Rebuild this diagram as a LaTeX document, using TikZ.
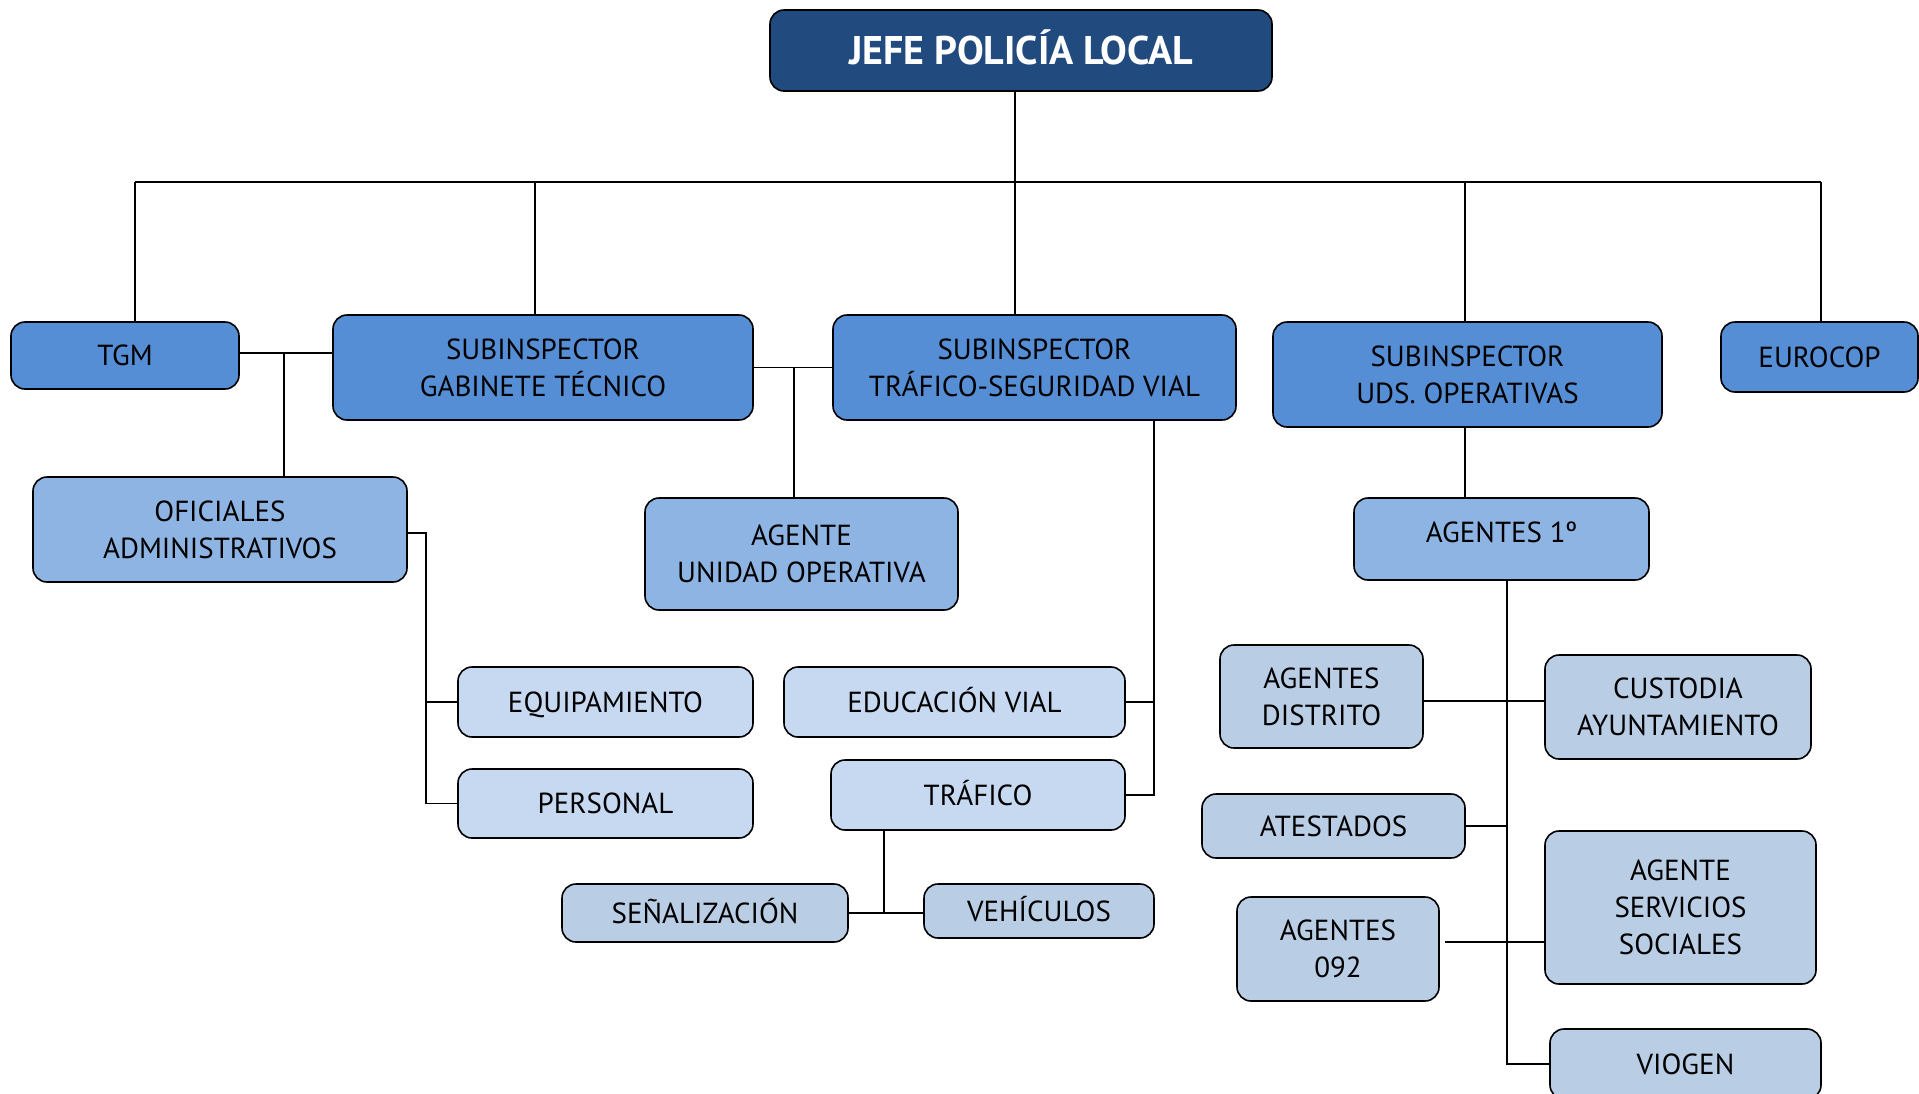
\documentclass[tikz,border=0pt]{standalone}
\usepackage{fontspec}
\setmainfont{PT Sans}
\usetikzlibrary{positioning}
\definecolor{jefeblue}{RGB}{33,74,126}
\definecolor{subblue}{RGB}{85,142,213}
\definecolor{midblue}{RGB}{142,180,227}
\definecolor{paleblue}{RGB}{198,217,241}
\definecolor{greyblue}{RGB}{185,205,229}
\tikzset{
  box/.style={draw=black, line width=1.6pt, rounded corners=14pt, align=center,
    inner sep=0pt, font=\fontsize{29}{37}\selectfont},
  dim/.style 2 args={minimum width=#1pt, minimum height=#2pt},
  one/.style={text height=20.5pt, text depth=0pt},
  jefe/.style={box, fill=jefeblue, text=white, font=\fontsize{40}{46}\selectfont\bfseries},
  sub/.style={box, fill=subblue},
  mid/.style={box, fill=midblue},
  pale/.style={box, fill=paleblue},
  grey/.style={box, fill=greyblue},
  link/.style={line width=1.6pt, draw=black},
}

\begin{document}
\begin{tikzpicture}[x=1pt, y=-1pt]
    \useasboundingbox (0,0) rectangle (1919,1093);
    % top levels
    \node[jefe, one, text height=28pt, dim={502}{81}] (jefe) at (1021,50.5) {JEFE POLICÍA LOCAL};
    \node[sub, one, dim={228}{67}] (tgm) at (125,355.5) {TGM};
    \node[sub, dim={420}{105}] (gab) at (543,367.5) {SUBINSPECTOR\\GABINETE TÉCNICO};
    \node[sub, dim={403}{105}] (traf) at (1034.5,367.5) {SUBINSPECTOR\\TRÁFICO-SEGURIDAD VIAL};
    \node[sub, dim={389}{105}] (uds) at (1467.5,374.5) {SUBINSPECTOR\\UDS. OPERATIVAS};
    \node[sub, one, dim={197}{70}] (euro) at (1819.5,357) {EUROCOP};
    \node[mid, dim={374}{105}] (ofic) at (220,529.5) {OFICIALES\\ADMINISTRATIVOS};
    \node[mid, dim={313}{112}] (aguo) at (801.5,554) {AGENTE\\UNIDAD OPERATIVA};
    \node[mid, one, dim={295}{82}] (ag1) at (1501.5,539) {\raisebox{7pt}{AGENTES 1º}};
    % gabinete / trafico
    \node[pale, one, dim={295}{70}] (equip) at (605.5,702) {EQUIPAMIENTO};
    \node[pale, one, dim={295}{69}] (personal) at (605.5,803.5) {PERSONAL};
    \node[pale, one, dim={341}{70}] (eduvial) at (954.5,702) {EDUCACIÓN VIAL};
    \node[pale, one, dim={294}{70}] (trafico) at (978,795) {TRÁFICO};
    \node[grey, one, dim={286}{58}] (senal) at (705,913) {SEÑALIZACIÓN};
    \node[grey, one, dim={230}{54}] (vehic) at (1039,911) {VEHÍCULOS};
    % operativas
    \node[grey, dim={203}{103}] (agdist) at (1321.5,696.5) {AGENTES\\DISTRITO};
    \node[grey, dim={266}{104}] (custodia) at (1678,707) {CUSTODIA\\AYUNTAMIENTO};
    \node[grey, one, dim={263}{64}] (atest) at (1333.5,826) {ATESTADOS};
    \node[grey, dim={202}{104}] (ag092) at (1338,949) {AGENTES\\092};
    \node[grey, dim={271}{153}] (agss) at (1680.5,907.5) {AGENTE\\SERVICIOS\\SOCIALES};
    \node[grey, one, dim={271}{70}] (viogen) at (1685.5,1064) {VIOGEN};

    \coordinate (busL) at (135,182);
    \coordinate (busR) at (1821,182);
    \coordinate (gabT) at (535,182);
    \coordinate (jefeB) at (1015,91);
    \coordinate (udsT) at (1465,182);
    \coordinate (tgJ) at (284,353);
    \coordinate (gtJ) at (794,367.5);
    \coordinate (ofJ) at (426,533);
    \coordinate (trJ) at (1154,420);
    \coordinate (tfJ) at (884,830);
    \coordinate (a1J) at (1507,580);
    \coordinate (distJ) at (1507,701);
    \coordinate (j092) at (1445,942);

    \draw[link] (busL) -- (busR);
    \draw[link] (busL) -- (busL |- tgm.north);
    \draw[link] (busR) -- (busR |- euro.north);
    \draw[link] (gabT) -- (gabT |- gab.north);
    \draw[link] (jefeB) -- (jefeB |- traf.north);
    \draw[link] (udsT) -- (udsT |- uds.north);
    \draw[link] (tgJ -| tgm.east) -- (tgJ -| gab.west);
    \draw[link] (tgJ) -- (tgJ |- ofic.north);
    \draw[link] (gab.east) -- (traf.west);
    \draw[link] (gtJ) -- (gtJ |- aguo.north);
    \draw[link] (ofJ -| ofic.east) -- (ofJ) |- (personal.west);
    \draw[link] (ofJ |- equip.west) -- (equip.west);
    \draw[link] (trJ) |- (trafico.east);
    \draw[link] (trJ |- eduvial.east) -- (eduvial.east);
    \draw[link] (tfJ) -- (tfJ |- senal.east);
    \draw[link] (senal.east) -- (senal.east -| vehic.west);
    \draw[link] (udsT |- uds.south) -- (udsT |- ag1.north);
    \draw[link] (a1J) |- (viogen.west);
    \draw[link] (distJ -| agdist.east) -- (distJ -| custodia.west);
    \draw[link] (atest.east) -- (atest.east -| a1J);
    \draw[link] (j092) -- (j092 -| agss.west);
\end{tikzpicture}
\end{document}
